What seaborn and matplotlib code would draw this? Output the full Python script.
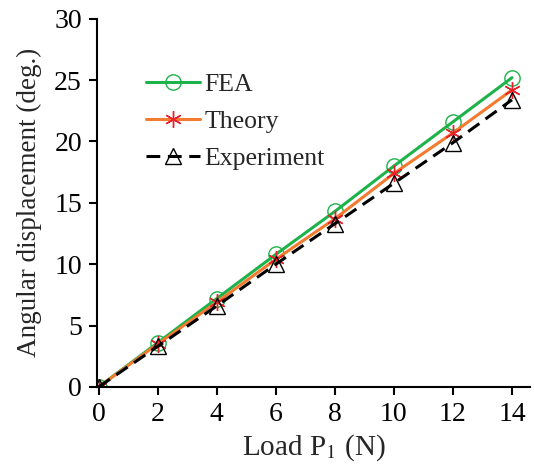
import matplotlib
matplotlib.use("Agg")
import matplotlib.pyplot as plt
import seaborn as sns
import pandas as pd

# data
load = [0, 2, 4, 6, 8, 10, 12, 14]
fea = [0, 3.6, 7.2, 10.8, 14.3, 18.0, 21.6, 25.2]
theory = [0, 3.5, 6.9, 10.4, 13.7, 17.4, 20.7, 24.2]
experiment = [0, 3.3, 6.6, 10.0, 13.3, 16.6, 19.9, 23.4]

df = pd.DataFrame({'load': load, 'FEA': fea, 'Theory': theory, 'Experiment': experiment})

sns.set_style('ticks')
plt.rcParams['font.family'] = ['Liberation Serif', 'DejaVu Serif']
plt.rcParams['mathtext.fontset'] = 'stix'

fig = plt.figure(figsize=(5.34, 4.69), dpi=100)
ax = fig.add_axes([0.182, 0.175, 0.81, 0.785])

sns.lineplot(data=df, x='load', y='FEA', ax=ax, color='#1db34a', lw=2.2,
             marker='o', ms=11, mfc='none', mec='#1db34a', mew=1.0, label='FEA')
sns.lineplot(data=df, x='load', y='Theory', ax=ax, color='#f47a30', lw=2.2,
             marker=(6, 2, 0), ms=12, mec='#e8202a', mew=1.0, label='Theory')
sns.lineplot(data=df, x='load', y='Experiment', ax=ax, color='black', lw=2.2,
             ls=(0, (4.5, 2.5)), marker='^', ms=11, mfc='none', mec='black', mew=1.0,
             label='Experiment')

ax.set_xlim(-0.05, 14.6)
ax.set_ylim(0, 30)
ax.set_xticks(range(0, 15, 2))
ax.set_yticks(range(0, 31, 5))
ax.tick_params(labelsize=20, width=1.5, length=6, direction='out', colors='black', pad=5)
for s in ['left', 'bottom']:
    ax.spines[s].set_linewidth(1.5)
    ax.spines[s].set_color('black')
sns.despine(ax=ax)

ax.set_xlabel('Load P$_1$ (N)', fontsize=21, labelpad=4)
ax.set_ylabel('Angular displacement (deg.)', fontsize=19.5, labelpad=9)

ax.legend(loc='upper left', bbox_to_anchor=(0.06, 0.915), frameon=False, fontsize=18.5,
          handlelength=2.1, handletextpad=0.15, labelspacing=0.55)

plt.savefig('out.png', dpi=100)
